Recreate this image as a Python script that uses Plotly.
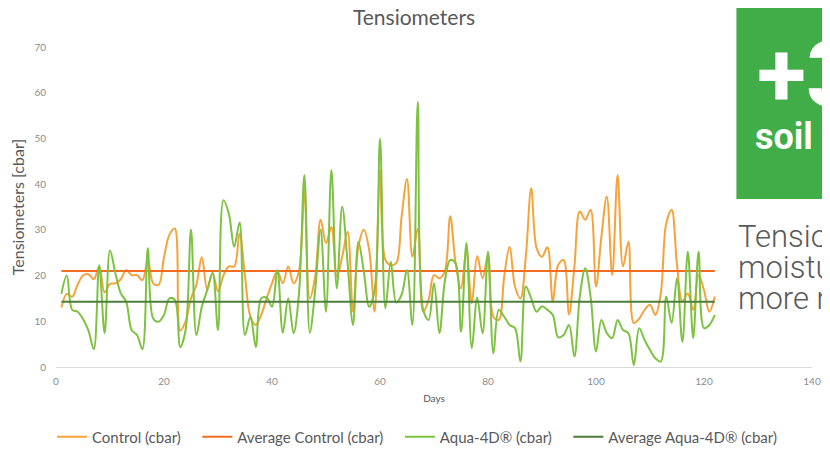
import plotly.graph_objects as go

days = list(range(1, 123))

control = [13, 16, 15.4, 18, 20, 20.3, 19.2, 22, 16.3, 18.2,
           18.3, 19.2, 21.2, 20.1, 20.1, 19, 23.4, 18.3, 18, 24,
           28.9, 30.3, 8, 10, 15, 18, 24, 17, 20.5, 16.5,
           20, 22, 22, 29.2, 19.8, 11, 9.2, 11.4, 15, 18.3,
           21, 18.3, 22, 18.3, 21, 38.7, 15, 19.8, 32.2, 27.1,
           30.6, 19.8, 24.1, 29.6, 12.1, 26.3, 30, 25.6, 12.1, 43.1,
           23.4, 22.3, 22.7, 32.9, 41.1, 24.1, 30.3, 12.1, 14.7, 20.1,
           19.4, 20.9, 33, 22.7, 17.2, 25.6, 13.9, 24.3, 19.4, 24.5,
           11, 10.3, 19.8, 26.3, 17.6, 15, 24.1, 39.1, 26, 24.1,
           26.2, 14.3, 22.3, 23.4, 11.5, 22, 34, 32.2, 34.4, 17.6,
           28.5, 37.3, 20.1, 42, 22, 27.4, 9.6, 10.6, 12.5, 13.6,
           11.4, 16.1, 31.4, 34.4, 22.3, 14.3, 16.1, 12.5, 20.1, 16.8,
           12.1, 15.4]

aqua = [16, 20, 12.5, 12.1, 10.5, 8, 3.9, 22.3, 7.4, 25.5,
        20.5, 16.1, 14.3, 8.1, 7, 3.9, 26, 10.6, 9.9, 11.4,
        15, 14.7, 4.4, 8.1, 30.1, 7, 13.2, 16.8, 20.6, 8.1,
        36.5, 33.6, 26.3, 31.6, 7, 11, 4.4, 15, 15.2, 13.2,
        21.2, 7.5, 15, 7.4, 16.1, 42, 7.5, 16.8, 30.1, 12.1,
        43.1, 17.2, 35.1, 22.7, 9.2, 27.4, 20.9, 13.2, 16.8, 50,
        12.8, 23, 14.1, 15.8, 21.2, 9.2, 58, 12.5, 10.3, 18.3,
        7.4, 18.7, 23.4, 22.7, 7.7, 27.2, 4.1, 15.2, 7.4, 25.2,
        3, 12.5, 11, 9.2, 8.5, 1.2, 17.6, 15, 12.1, 13.3,
        12.5, 11.4, 6.5, 7, 9.2, 2.3, 15.4, 21.6, 15.4, 3.4,
        10.3, 7.4, 6.3, 10.3, 8.1, 7.4, 0.4, 8.5, 5.9, 3.7,
        1.9, 1.2, 15.4, 9.6, 19.4, 5.5, 25.2, 6.3, 25.2, 8.5,
        9.2, 11.4]

avg_control_value = 21.0
avg_aqua_value = 14.3
avg_control = [avg_control_value] * len(days)
avg_aqua = [avg_aqua_value] * len(days)

series_names = ["Control (cbar)", "Average Control (cbar)",
                "Aqua-4D\u00ae (cbar)", "Average Aqua-4D\u00ae (cbar)"]
x_ticks = [0, 20, 40, 60, 80, 100, 120, 140]
y_ticks = [0, 10, 20, 30, 40, 50, 60, 70]

C_CONTROL = "#F5A33A"
C_AVG_CONTROL = "#F26B21"
C_AQUA = "#7EC242"
C_AVG_AQUA = "#4D7E39"
GRAY = "#595959"
FONT = "Lato"

PAD = "\u00a0" * 3  # extra spacing between legend entries
legend_labels = [series_names[0] + PAD, series_names[1] + PAD,
                 series_names[2] + PAD, series_names[3]]

fig = go.Figure()
fig.add_trace(go.Scatter(x=days, y=control, name=legend_labels[0], mode="lines",
                         line=dict(color=C_CONTROL, width=2, shape="spline", smoothing=1)))
fig.add_trace(go.Scatter(x=days, y=avg_control, name=legend_labels[1], mode="lines",
                         line=dict(color=C_AVG_CONTROL, width=2)))
fig.add_trace(go.Scatter(x=days, y=aqua, name=legend_labels[2], mode="lines",
                         line=dict(color=C_AQUA, width=2, shape="spline", smoothing=1)))
fig.add_trace(go.Scatter(x=days, y=avg_aqua, name=legend_labels[3], mode="lines",
                         line=dict(color=C_AVG_AQUA, width=2)))

# page body has an 8px margin: figure origin sits at window (8, 8)
OFF = 8
W, H = 822, 444
L, T = 43, 39
PW, PH = 770, 320
R = W - L - PW
B = H - T - PH


def px(xw):
    return (xw - OFF - L) / PW


def py(yw):
    return (H - B - (yw - OFF)) / PH


def cx(xw):
    return (xw - OFF) / W


def cy(yw):
    return (H - (yw - OFF)) / H


fig.update_layout(
    width=W, height=H,
    margin=dict(l=L, r=R, t=T, b=B),
    paper_bgcolor="white", plot_bgcolor="white",
    font=dict(family=FONT, color=GRAY),
    title=dict(text="Tensiometers", x=cx(414), xref="container", xanchor="center",
               y=cy(18), yref="container", yanchor="middle",
               font=dict(family=FONT, size=21, color=GRAY)),
    showlegend=True,
    legend=dict(orientation="h", xref="container", x=cx(417), xanchor="center",
                yref="container", y=cy(437), yanchor="middle",
                font=dict(family=FONT, size=15, color=GRAY), traceorder="normal"),
    xaxis=dict(range=[0, 140], tickvals=x_ticks, showgrid=False, zeroline=False,
               showline=True, linecolor="#D9D9D9", linewidth=1,
               tickfont=dict(family=FONT, size=10, color="#8C8C8C"),
               ticklabelstandoff=5,
               title=dict(text="Days", font=dict(family=FONT, size=10, color=GRAY), standoff=8)),
    yaxis=dict(range=[0, 70], tickvals=y_ticks, showgrid=False, zeroline=False,
               showline=False,
               tickfont=dict(family=FONT, size=10, color="#8C8C8C"),
               ticklabelstandoff=9,
               title=dict(text="Tensiometers [cbar]", font=dict(family=FONT, size=16, color=GRAY),
                          standoff=6)),
)

# overlaid page box on the right
fig.add_shape(type="rect", xref="paper", yref="paper",
              x0=px(744), x1=px(850), y0=py(199), y1=py(-20),
              fillcolor="#41AD49", line=dict(width=0), layer="above")
fig.add_annotation(text="<b>+3</b>", xref="paper", yref="paper", x=px(763), y=py(76),
                   xanchor="left", yanchor="middle", showarrow=False,
                   font=dict(family="Roboto", size=90, color="white"))
fig.add_annotation(text="<b>soil</b>", xref="paper", yref="paper", x=px(761), y=py(137),
                   xanchor="left", yanchor="middle", showarrow=False,
                   font=dict(family="Roboto", size=36, color="white"))
for txt, yc in [("Tensio", 236), ("moistu", 267), ("more m", 298)]:
    fig.add_annotation(text=txt, xref="paper", yref="paper", x=px(744), y=py(yc),
                       xanchor="left", yanchor="middle", showarrow=False,
                       font=dict(family="Roboto", size=31, color="#5A5A5A", weight=300))

fig.write_html("out.html")
